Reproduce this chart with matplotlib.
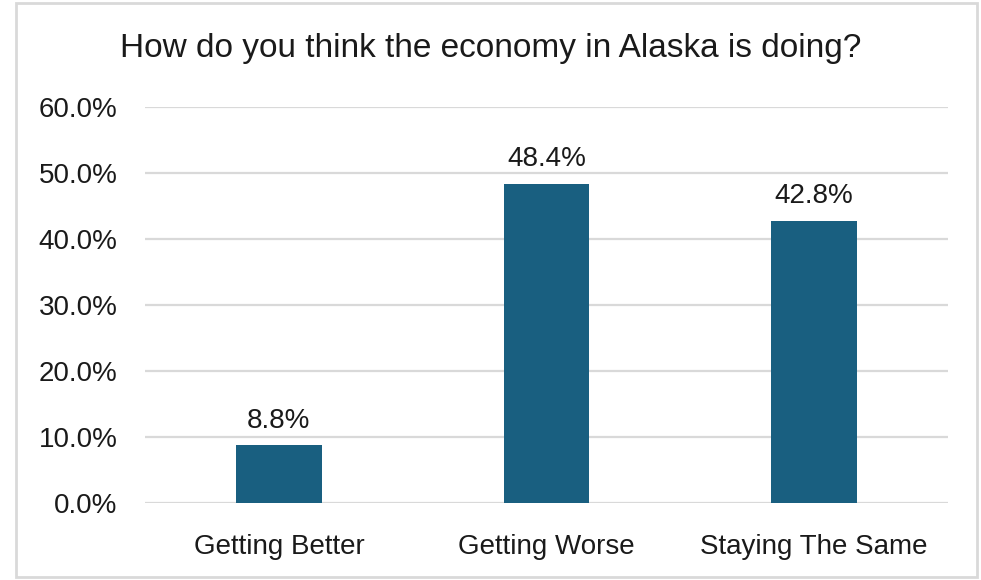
import matplotlib
matplotlib.use("Agg")
import matplotlib.pyplot as plt
from matplotlib.patches import Rectangle
from matplotlib.ticker import FuncFormatter

categories = ["Getting Better", "Getting Worse", "Staying The Same"]
shares = [8.8, 48.4, 42.8]
y_ticks = [0, 10, 20, 30, 40, 50, 60]

bar_color = "#195f80"
grid_color = "#d9d9d9"

plt.rcParams["font.family"] = ["Liberation Sans", "DejaVu Sans"]

fig = plt.figure(figsize=(9.81, 5.80), dpi=100)
ax = fig.add_axes([0.148, 0.1328, 0.818, 0.6827])

x = list(range(len(categories)))
ax.bar(x, shares, width=0.32, color=bar_color, zorder=3)

for xi, v in zip(x, shares):
    ax.annotate("%.1f%%" % v, (xi, v), xytext=(0, 8), textcoords="offset points",
                ha="center", va="bottom", fontsize=20, color="#1a1a1a")

ax.set_xlim(-0.5, 2.5)
ax.set_ylim(0, 60)
ax.set_yticks(y_ticks)
ax.yaxis.set_major_formatter(FuncFormatter(lambda v, p: "%.1f%%" % v))
ax.set_xticks(x)
ax.set_xticklabels(categories)
ax.tick_params(axis="both", length=0, labelsize=20, colors="#1a1a1a")
ax.tick_params(axis="y", pad=20)
ax.tick_params(axis="x", pad=22)
ax.grid(axis="y", color=grid_color, linewidth=1.6, zorder=0)
for s in ax.spines.values():
    s.set_visible(False)

fig.text(0.5, 0.917, "How do you think the economy in Alaska is doing?",
         ha="center", va="center", fontsize=24, color="#1a1a1a")

# light frame around the whole chart
fig.patches.append(Rectangle((16 / 981, 3 / 580), 961 / 981, 574 / 580,
                             transform=fig.transFigure, fill=False,
                             edgecolor=grid_color, linewidth=2))

fig.savefig("out.png", dpi=100)
